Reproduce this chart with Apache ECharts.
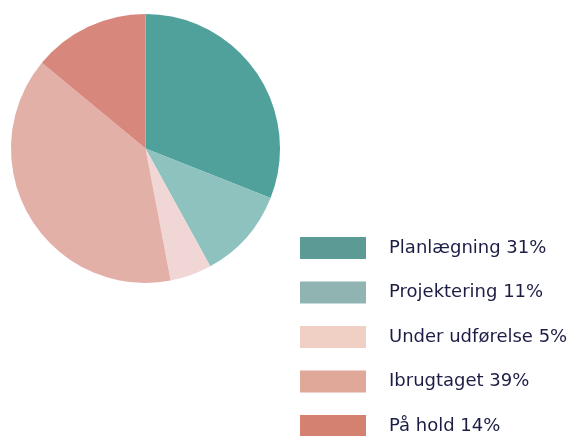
<!DOCTYPE html>
<html>
<head>
<meta charset="utf-8">
<script src="https://cdn.jsdelivr.net/npm/echarts@6/dist/echarts.min.js"></script>
<style>
html,body{margin:0;padding:0;background:#fff;}
#chart{width:574px;height:436px;}
</style>
</head>
<body>
<div id="chart"></div>
<script>
// data
var categories = ['Planlægning', 'Projektering', 'Under udførelse', 'Ibrugtaget', 'På hold'];
var values = [31, 11, 5, 39, 14];
var sliceColors = ['#50a09c', '#8dc2bf', '#f0d6d4', '#e3b0a8', '#d7877c'];
var legendColors = ['#5c9a95', '#8fb4b2', '#f0cfc4', '#dfa898', '#d4826f'];

var pieData = categories.map(function (name, i) {
    return { name: name, value: values[i], itemStyle: { color: sliceColors[i] } };
});
var legendData = categories.map(function (name, i) {
    return { name: name, itemStyle: { color: legendColors[i] } };
});

var myChart = echarts.init(document.getElementById('chart'));
myChart.setOption({
    animation: false,
    legend: {
        orient: 'vertical',
        left: 300,
        top: 237,
        height: 240,
        itemWidth: 66,
        itemHeight: 22,
        itemGap: 22.5,
        icon: 'rect',
        padding: 0,
        data: legendData,
        formatter: function (name) {
            return name + ' ' + values[categories.indexOf(name)] + '%';
        },
        textStyle: {
            color: '#1c1d45',
            fontSize: 18,
            fontFamily: 'DejaVu Sans',
            padding: [0, 0, 0, 18]
        }
    },
    series: [{
        type: 'pie',
        center: [145.5, 148.5],
        radius: 134.5,
        startAngle: 90,
        clockwise: true,
        label: { show: false },
        labelLine: { show: false },
        silent: true,
        itemStyle: { borderWidth: 0 },
        data: pieData
    }]
});
</script>
</body>
</html>
